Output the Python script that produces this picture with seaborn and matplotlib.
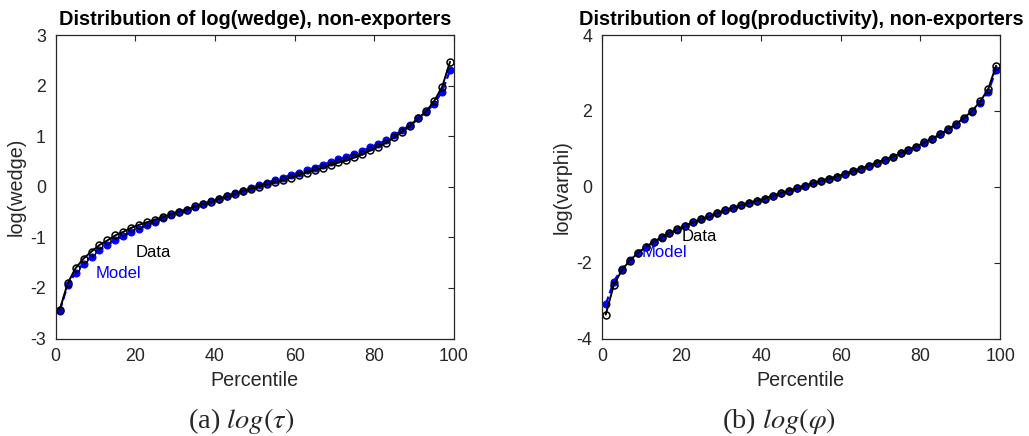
import numpy as np
import pandas as pd
import matplotlib
matplotlib.use("Agg")
import matplotlib.pyplot as plt
import seaborn as sns

# ---------------- data ----------------
percentiles = list(range(1, 100, 2))

wedge_data = [-2.44, -1.91, -1.61, -1.42, -1.28, -1.15, -1.06, -0.96, -0.89, -0.81,
              -0.75, -0.70, -0.65, -0.60, -0.54, -0.49, -0.45, -0.39, -0.34, -0.30,
              -0.24, -0.19, -0.14, -0.09, -0.04, 0.00, 0.05, 0.09, 0.13, 0.18,
              0.23, 0.28, 0.33, 0.37, 0.43, 0.48, 0.52, 0.58, 0.64, 0.72,
              0.79, 0.87, 0.98, 1.09, 1.20, 1.35, 1.49, 1.69, 1.97, 2.47]
wedge_model = [-2.45, -1.95, -1.70, -1.52, -1.38, -1.25, -1.15, -1.05, -0.97, -0.90,
               -0.83, -0.76, -0.69, -0.62, -0.56, -0.50, -0.45, -0.40, -0.34, -0.29,
               -0.24, -0.18, -0.13, -0.08, -0.02, 0.03, 0.08, 0.13, 0.18, 0.23,
               0.28, 0.33, 0.38, 0.43, 0.49, 0.54, 0.59, 0.65, 0.71, 0.78,
               0.85, 0.92, 1.02, 1.12, 1.22, 1.35, 1.48, 1.64, 1.88, 2.30]

phi_data = [-3.37, -2.60, -2.20, -1.95, -1.75, -1.59, -1.46, -1.33, -1.23, -1.12,
            -1.03, -0.94, -0.86, -0.78, -0.70, -0.62, -0.55, -0.49, -0.43, -0.37,
            -0.31, -0.24, -0.17, -0.11, -0.04, 0.03, 0.09, 0.15, 0.21, 0.27,
            0.34, 0.41, 0.48, 0.55, 0.63, 0.71, 0.79, 0.88, 0.97, 1.06,
            1.17, 1.27, 1.39, 1.52, 1.66, 1.82, 2.00, 2.25, 2.57, 3.19]
phi_model = [-3.10, -2.50, -2.17, -1.94, -1.75, -1.59, -1.46, -1.34, -1.23, -1.13,
             -1.03, -0.94, -0.86, -0.78, -0.70, -0.62, -0.55, -0.49, -0.43, -0.37,
             -0.31, -0.24, -0.17, -0.11, -0.04, 0.03, 0.09, 0.15, 0.21, 0.27,
             0.34, 0.41, 0.48, 0.55, 0.63, 0.71, 0.79, 0.88, 0.97, 1.06,
             1.16, 1.26, 1.38, 1.50, 1.64, 1.79, 1.97, 2.20, 2.50, 3.08]

titles = ["Distribution of log(wedge), non-exporters",
          "Distribution of log(productivity), non-exporters"]
ylabels = ["log(wedge)", "log(varphi)"]
xlabel = "Percentile"
captions = [r"(a) $log(\tau)$", r"(b) $log(\varphi)$"]
xticks = [0, 20, 40, 60, 80, 100]
yticks_list = [[-3, -2, -1, 0, 1, 2, 3], [-4, -2, 0, 2, 4]]
ylims = [(-3, 3), (-4, 4)]
label_data = "Data"
label_model = "Model"

# ---------------- style ----------------
sns.set_style("white")
plt.rcParams["font.family"] = ["Liberation Sans", "DejaVu Sans"]
plt.rcParams["font.serif"] = ["Liberation Serif", "DejaVu Serif"]
plt.rcParams["mathtext.fontset"] = "stix"
plt.rcParams["axes.unicode_minus"] = False

axcol = "#262626"
fig = plt.figure(figsize=(10.29, 4.36), dpi=100)
positions = [[0.0541, 0.2236, 0.3871, 0.6961], [0.5848, 0.2236, 0.3871, 0.6961]]
datas = [(wedge_data, wedge_model), (phi_data, phi_model)]
caption_x = [241 / 1029, 779 / 1029]

for i in range(2):
    ax = fig.add_axes(positions[i])
    d, m = datas[i]
    df = pd.DataFrame({"p": percentiles, "data": d, "model": m})
    sns.lineplot(data=df, x="p", y="model", ax=ax, color="#0000FF", linestyle="--",
                 linewidth=1.6, marker="o", markersize=5, markerfacecolor="#0000FF",
                 markeredgecolor="#0000FF", markeredgewidth=0.8)
    sns.lineplot(data=df, x="p", y="data", ax=ax, color="black", linestyle="-",
                 linewidth=1.4, marker="o", markersize=5, markerfacecolor="none",
                 markeredgecolor="black", markeredgewidth=1.1)
    ax.set_xlim(0, 100)
    ax.set_ylim(*ylims[i])
    ax.set_xticks(xticks)
    ax.set_yticks(yticks_list[i])
    ax.tick_params(direction="in", length=4, width=0.8, colors=axcol,
                   labelsize=12.8, top=True, right=True, pad=7,
                   labelcolor=axcol)
    for s in ax.spines.values():
        s.set_color(axcol)
        s.set_linewidth(0.9)
        s.set_visible(True)
    ax.set_xlabel(xlabel, fontsize=14.2, color=axcol, labelpad=4)
    ax.set_ylabel(ylabels[i], fontsize=14.2, color=axcol, labelpad=3)
    ax.set_title(titles[i], fontsize=14.4, fontweight="bold", color="black", pad=7)
    ax.text(20, -1.3, label_data, color="black", fontsize=12, va="center", ha="left")
    ax.text(10, -1.72, label_model, color="#0000FF", fontsize=12, va="center", ha="left")
    ax.grid(False)
    fig.text(caption_x[i], 1 - 421 / 436, captions[i],
             ha="center", va="center", fontsize=20.5, family="serif")

fig.savefig("out.png", dpi=100)
